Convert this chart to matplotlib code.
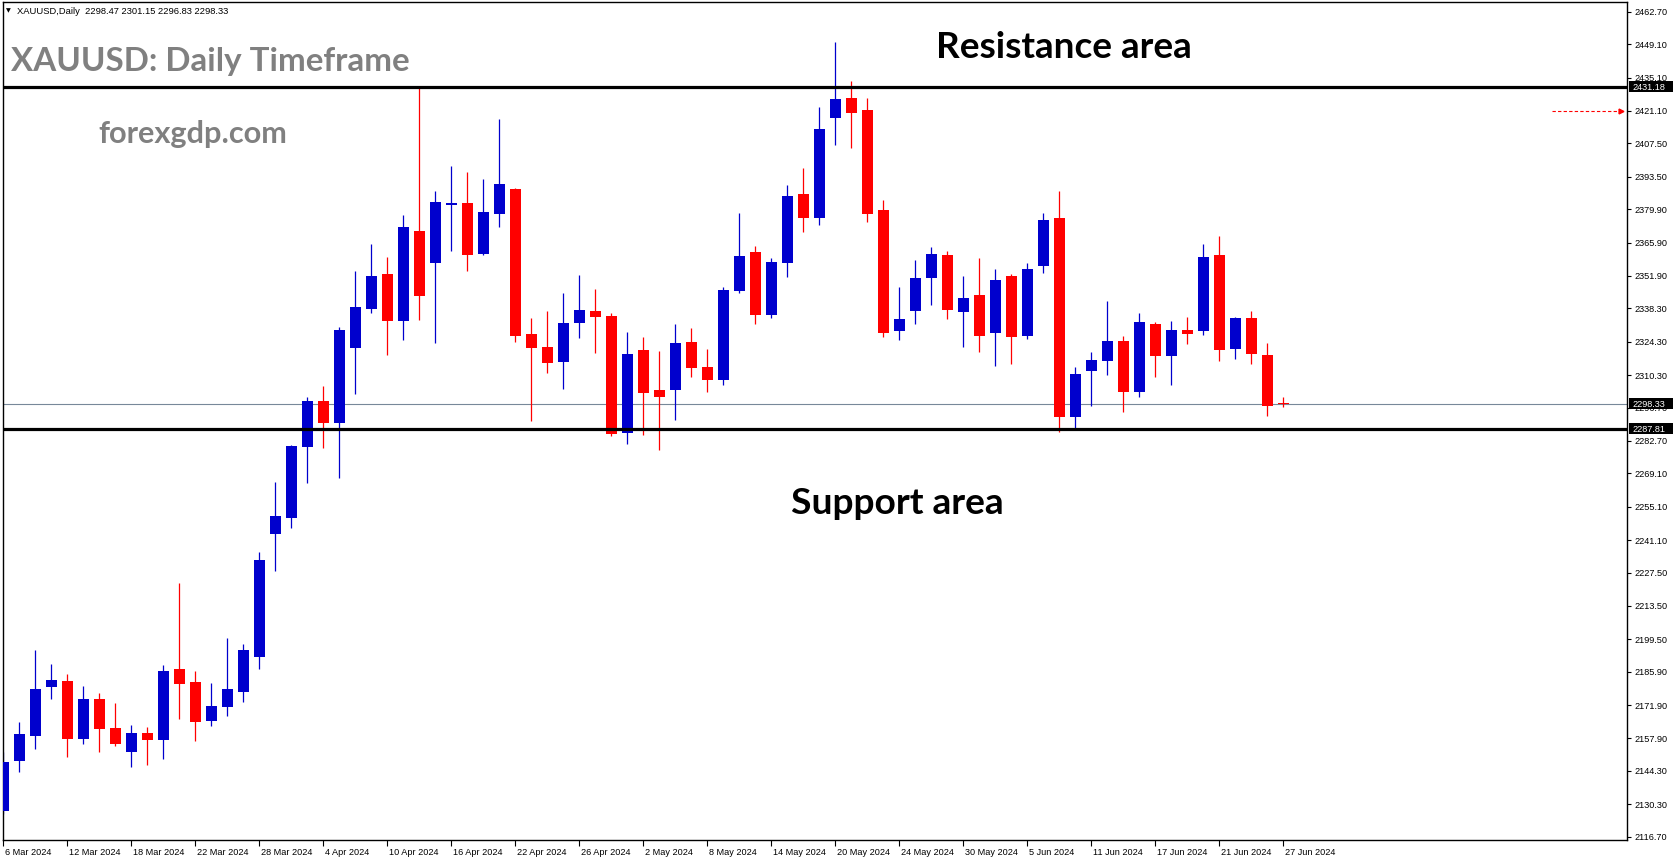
import matplotlib
matplotlib.use("Agg")
import matplotlib.pyplot as plt
from matplotlib.transforms import blended_transform_factory, ScaledTranslation, IdentityTransform
from matplotlib.patches import Rectangle

# ---------------- data ----------------
opens = [2127.6, 2148.5, 2159.0, 2179.6, 2182.0, 2157.6, 2174.4, 2162.2, 2152.2, 2160.1,
         2157.2, 2187.0, 2181.5, 2165.3, 2171.2, 2177.5, 2192.1, 2243.7, 2250.5, 2280.2,
         2299.4, 2290.3, 2321.8, 2338.1, 2352.7, 2333.1, 2370.7, 2357.4, 2381.7, 2382.5,
         2361.2, 2378.0, 2388.3, 2327.5, 2322.1, 2315.9, 2332.2, 2337.2, 2335.1, 2286.1,
         2320.8, 2304.0, 2304.1, 2324.2, 2313.7, 2308.3, 2345.7, 2361.9, 2335.6, 2357.4,
         2386.2, 2376.3, 2418.2, 2426.5, 2421.5, 2379.5, 2328.9, 2337.3, 2351.1, 2360.6,
         2336.9, 2343.9, 2328.1, 2351.8, 2326.8, 2356.2, 2376.2, 2292.8, 2312.1, 2316.3,
         2324.6, 2303.3, 2331.7, 2318.4, 2329.2, 2328.9, 2360.6, 2321.3, 2334.2, 2318.7,
         2298.47]
highs = [2152.2, 2164.8, 2195.0, 2189.1, 2184.9, 2179.9, 2176.9, 2172.7, 2163.5, 2162.7,
         2188.7, 2223.1, 2186.1, 2181.1, 2200.0, 2197.5, 2236.1, 2265.4, 2280.9, 2301.1,
         2305.7, 2330.3, 2353.9, 2365.3, 2359.8, 2377.4, 2431.2, 2387.5, 2398.0, 2395.5,
         2392.5, 2417.7, 2388.7, 2334.2, 2337.2, 2344.7, 2352.3, 2346.4, 2336.2, 2328.3,
         2326.2, 2320.4, 2331.7, 2330.0, 2321.2, 2347.2, 2378.3, 2364.4, 2359.4, 2390.0,
         2397.1, 2422.7, 2450.0, 2433.6, 2426.5, 2383.7, 2347.2, 2358.5, 2364.0, 2362.3,
         2351.8, 2359.4, 2354.8, 2352.7, 2357.3, 2378.3, 2387.5, 2313.7, 2320.0, 2341.3,
         2326.7, 2336.3, 2332.5, 2333.0, 2334.6, 2365.3, 2368.6, 2334.6, 2337.2, 2323.7,
         2301.15]
lows = [2126.0, 2143.8, 2153.6, 2174.4, 2150.2, 2155.5, 2152.2, 2154.7, 2145.9, 2146.7,
        2149.2, 2166.0, 2156.9, 2163.2, 2167.4, 2173.3, 2187.1, 2228.2, 2246.3, 2265.0,
        2279.7, 2267.2, 2302.5, 2336.4, 2318.8, 2325.1, 2333.5, 2323.9, 2362.4, 2354.1,
        2360.8, 2372.5, 2324.3, 2291.1, 2311.3, 2304.6, 2326.0, 2319.7, 2284.8, 2281.5,
        2285.3, 2279.0, 2291.6, 2309.6, 2303.3, 2306.2, 2344.8, 2331.8, 2334.3, 2351.5,
        2370.4, 2373.4, 2406.9, 2405.7, 2374.6, 2326.4, 2325.1, 2331.8, 2339.8, 2333.9,
        2322.2, 2320.1, 2314.2, 2315.0, 2325.5, 2353.2, 2286.5, 2288.0, 2297.4, 2310.4,
        2294.9, 2301.2, 2309.6, 2306.2, 2323.4, 2327.2, 2316.3, 2317.1, 2315.0, 2293.2,
        2296.83]
closes = [2148.0, 2159.7, 2178.6, 2182.4, 2157.6, 2174.4, 2161.8, 2155.5, 2160.1, 2157.2,
          2186.1, 2180.8, 2164.9, 2171.5, 2178.6, 2195.0, 2232.7, 2251.2, 2280.5, 2299.4,
          2290.3, 2329.2, 2338.8, 2351.8, 2333.1, 2372.4, 2343.6, 2382.9, 2382.3, 2360.8,
          2378.7, 2390.4, 2326.8, 2321.8, 2315.5, 2332.1, 2337.6, 2334.8, 2285.7, 2319.1,
          2302.9, 2301.2, 2323.7, 2313.4, 2308.3, 2346.0, 2360.2, 2335.6, 2357.7, 2385.4,
          2376.3, 2413.5, 2426.1, 2420.3, 2378.0, 2328.1, 2333.8, 2351.0, 2361.1, 2337.7,
          2342.6, 2326.8, 2350.2, 2326.4, 2354.8, 2375.3, 2292.8, 2310.7, 2316.6, 2324.6,
          2303.3, 2332.5, 2318.4, 2329.2, 2327.6, 2359.8, 2320.9, 2334.2, 2319.2, 2297.4,
          2298.33]

date_labels = ["6 Mar 2024", "12 Mar 2024", "18 Mar 2024", "22 Mar 2024", "28 Mar 2024",
               "4 Apr 2024", "10 Apr 2024", "16 Apr 2024", "22 Apr 2024", "26 Apr 2024",
               "2 May 2024", "8 May 2024", "14 May 2024", "20 May 2024", "24 May 2024",
               "30 May 2024", "5 Jun 2024", "11 Jun 2024", "17 Jun 2024", "21 Jun 2024",
               "27 Jun 2024"]
label_step = 4

price_ticks = [2462.70, 2449.10, 2435.10, 2421.10, 2407.50, 2393.50, 2379.90, 2365.90,
               2351.90, 2338.30, 2324.30, 2310.30, 2296.70, 2282.70, 2269.10, 2255.10,
               2241.10, 2227.50, 2213.50, 2199.50, 2185.90, 2171.90, 2157.90, 2144.30,
               2130.30, 2116.70]

resistance = 2431.18
support = 2287.81
bid = 2298.33
alert_level = 2421.1

# ---------------- style ----------------
W, H = 1673, 861
BLUE = "#0000CD"
RED = "#FF0000"
GRAY = "#808080"
plt.rcParams["font.family"] = ["Liberation Sans", "DejaVu Sans"]
SMALL = 6.6

fig = plt.figure(figsize=(W / 100, H / 100), dpi=100)
fig.patch.set_facecolor("white")
ax = fig.add_axes([2.5 / W, 1 - 840 / H, (1627 - 2.5) / W, (840 - 1.5) / H])

n = len(opens)
xs = list(range(n))
cols = [BLUE if c >= o else RED for o, c in zip(opens, closes)]
bottoms = [min(o, c) for o, c in zip(opens, closes)]
heights = [max(abs(c - o), 0.45) for o, c in zip(opens, closes)]

ax.axhline(bid, color="#778899", lw=0.8, zorder=1)
ax.vlines(xs, lows, highs, colors=cols, linewidth=0.9, zorder=2)
ax.bar(xs, heights, bottom=bottoms, width=0.69, color=cols, linewidth=0, zorder=3)
ax.axhline(resistance, color="black", lw=2.3, zorder=4)
ax.axhline(support, color="black", lw=2.3, zorder=4)

ax.set_xlim(-0.05, 101.48)
ax.set_ylim(2115.3, 2467.0)

# alert arrow at right
tr = blended_transform_factory(ax.transAxes, ax.transData)
ax.plot([0.954, 0.9955], [alert_level, alert_level], transform=tr, color=RED,
        lw=0.8, linestyle=(0, (3, 2)), zorder=5, clip_on=False)
ax.plot([0.9965], [alert_level], transform=tr, marker=">", color=RED, markersize=3.5,
        zorder=5, clip_on=False)

# axes styling
for s in ax.spines.values():
    s.set_color("black")
    s.set_linewidth(1.0)
ax.yaxis.tick_right()
ax.set_yticks(price_ticks)
ax.set_yticklabels([f"{v:.2f}" for v in price_ticks])
ax.tick_params(axis="y", direction="out", length=3, width=0.8, pad=2.5,
               labelsize=SMALL, colors="black")
ax.set_xticks(list(range(0, label_step * len(date_labels), label_step)))
ax.set_xticklabels(date_labels, ha="left")
ax.tick_params(axis="x", direction="out", length=4, width=0.8, pad=1.5,
               labelsize=SMALL, colors="black")
off = ScaledTranslation(1.5 / 100, 0, fig.dpi_scale_trans)
for lab in ax.get_xticklabels():
    lab.set_transform(lab.get_transform() + off)

# price boxes on the right
fig.canvas.draw()
for val, txt in [(resistance, "2431.18"), (bid, "2298.33"), (support, "2287.81")]:
    ypx = ax.transData.transform((0, val))[1]
    fig.add_artist(Rectangle((1628.5, ypx - 5.5), W - 1628.5, 11, transform=IdentityTransform(),
                             facecolor="black", edgecolor="none", zorder=10))
    fig.text(1632 / W, ypx / H, txt, color="white", fontsize=SMALL, va="center_baseline",
             ha="left", zorder=11)

renderer = fig.canvas.get_renderer()


def fit_text(x_px, base_px, s, width_px, **kw):
    t = fig.text(x_px / W, 1 - base_px / H, s, ha="left", va="baseline", **kw)
    w = t.get_window_extent(renderer).width
    t.set_fontsize(t.get_fontsize() * width_px / w)
    return t


fig.text(6 / W, 1 - 10.5 / H, "\u25BC", fontsize=4.5, va="center", ha="left",
         family="DejaVu Sans", color="black")
fit_text(17, 14.5, "XAUUSD,Daily  2298.47 2301.15 2296.83 2298.33", 211,
         fontsize=SMALL, color="black")
fit_text(11, 71.5, "XAUUSD: Daily Timeframe", 398, fontsize=22, color=GRAY,
         family="Lato", weight="bold")
fit_text(98, 143, "forexgdp.com", 190, fontsize=14, color=GRAY, family="Lato",
         weight="bold")
fit_text(936, 58, "Resistance area", 256, fontsize=20, color="black", family="Lato",
         weight="bold")
fit_text(791, 514, "Support area", 213, fontsize=20, color="black", family="Lato",
         weight="bold")

fig.savefig("out.png", dpi=100, facecolor="white")
